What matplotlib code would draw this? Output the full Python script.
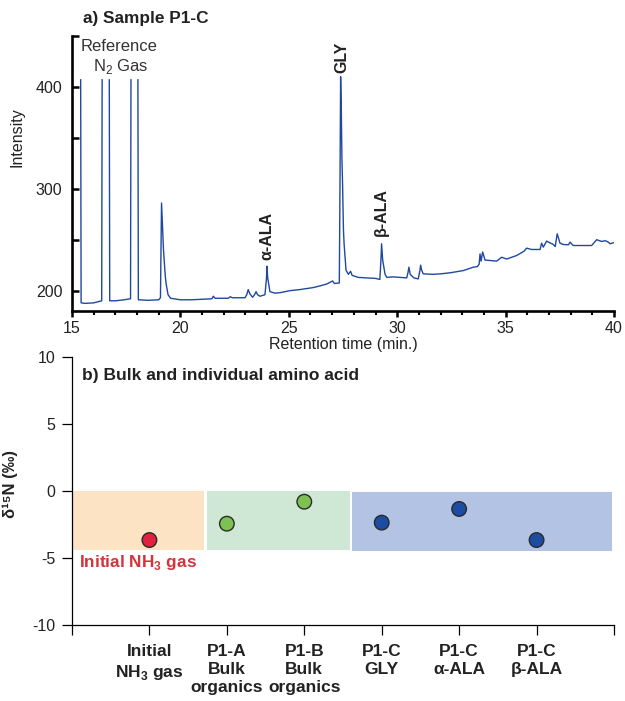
import numpy as np
import matplotlib
matplotlib.use("Agg")
import matplotlib.pyplot as plt
from matplotlib.patches import Rectangle
from matplotlib.ticker import MultipleLocator

plt.rcParams['font.family'] = ['Liberation Sans', 'DejaVu Sans']
plt.rcParams['mathtext.fontset'] = 'custom'
plt.rcParams['mathtext.rm'] = 'Liberation Sans'
plt.rcParams['mathtext.bf'] = 'Liberation Sans:bold'

nan = np.nan

# chromatogram of sample P1-C, nan = off-scale gaps
rt_min = [15.40, 15.42, 15.6, 16.0, 16.37, 16.39, 16.55, 16.72, 16.74, 17.0, 17.4, 17.70, 17.72,
          17.90, 18.04, 18.06, 18.5, 19.0, 19.08, 19.13, 19.16, 19.22, 19.30, 19.34, 19.43, 19.55,
          20.0, 20.5, 21.0, 21.45, 21.52, 21.6, 22.2, 22.3, 22.4, 22.98, 23.06, 23.13, 23.2, 23.33,
          23.42, 23.49, 23.56, 23.67, 23.9, 23.97, 23.99, 24.03, 24.13, 24.36, 24.6, 25.06, 25.5,
          26.13, 26.5, 26.75, 27.02, 27.1, 27.33, 27.36, 27.39, 27.42, 27.45, 27.48, 27.52, 27.55,
          27.64, 27.75, 27.85, 27.92, 28.2, 28.6, 29.0, 29.2, 29.25, 29.28, 29.33, 29.44, 29.52,
          29.8, 30.13, 30.44, 30.5, 30.54, 30.6, 30.77, 30.97, 31.05, 31.08, 31.13, 31.2, 31.66,
          32.0, 32.44, 33.05, 33.51, 33.7, 33.78, 33.82, 33.87, 33.94, 34.05, 34.3, 34.59, 34.82,
          35.05, 35.51, 35.85, 35.97, 36.2, 36.59, 36.66, 36.74, 36.89, 37.2, 37.29, 37.38, 37.51,
          37.66, 37.9, 37.97, 38.12, 38.97, 39.2, 39.43, 39.6, 39.74, 39.82, 39.97]
intensity = [407, 188, 187.5, 188, 190, 407, nan, 407, 190, 190, 191, 192, 407,
             nan, 407, 191, 190.5, 191, 193, 286, 270, 240, 215, 207, 196, 192.5,
             191, 191, 191.5, 192, 194.5, 192.5, 192.5, 194, 193, 193, 196, 201, 197, 193.5,
             196, 199, 196, 194.5, 196, 212, 224, 212, 199, 197.5, 198, 200, 201,
             203, 205, 206.5, 209.5, 207, 207.5, 300, 410, 380, 330, 305, 260, 246,
             220, 216, 219, 215, 213, 212.5, 212, 211, 230, 246, 230, 216, 213,
             213.5, 213, 212.5, 218, 223, 216, 212.5, 211.5, 220, 225, 220, 216.5, 216,
             216.5, 217.5, 219.7, 223, 223.6, 226, 236, 229, 238, 230, 229.5, 229, 232.8,
             231, 234.5, 238.7, 241.7, 240.4, 240.4, 246.6, 242.7, 248.6, 245.3, 243.3, 255.8, 246.6,
             245.3, 245, 247.6, 244.3, 244.3, 250, 248.3, 249, 247.6, 246, 247]

# bulk and individual amino acid d15N
samples = ["Initial\nNH$_\\mathbf{3}$ gas", "P1-A\nBulk\norganics", "P1-B\nBulk\norganics",
           "P1-C\nGLY", "P1-C\n\u03b1-ALA", "P1-C\n\u03b2-ALA"]
d15n = [-3.66, -2.44, -0.8, -2.36, -1.34, -3.66]
point_colors = ["#e2213f", "#7cc152", "#7cc152", "#1d4ca3", "#1d4ca3", "#1d4ca3"]

fig = plt.figure(figsize=(6.25, 7.01), dpi=100)
W, H = 625, 701

# ---- a) chromatogram
ax1 = fig.add_axes([72 / W, 1 - 311 / H, 542 / W, 275 / H])
ax1.plot(rt_min, intensity, color="#1f48a0", lw=1.0)
ax1.set_xlim(15, 40)
ax1.set_ylim(180, 450)
for s in ["top", "right"]:
    ax1.spines[s].set_visible(False)
for s in ["left", "bottom"]:
    ax1.spines[s].set_linewidth(1.9)
ax1.yaxis.set_major_locator(MultipleLocator(100))
ax1.yaxis.set_minor_locator(MultipleLocator(50))
ax1.xaxis.set_major_locator(MultipleLocator(5))
ax1.xaxis.set_minor_locator(MultipleLocator(1))
ax1.tick_params(axis="y", which="both", direction="in", length=5, width=1.8, pad=7,
                labelsize=11.5, labelcolor="#222222")
ax1.tick_params(axis="x", which="major", direction="out", length=4, width=1.8, pad=3,
                labelsize=11.5, labelcolor="#222222")
ax1.tick_params(axis="x", which="minor", direction="out", length=3, width=1.5)
ax1.set_xlabel("Retention time (min.)", fontsize=11.5, color="#222222", labelpad=1)
ax1.set_ylabel("Intensity", fontsize=11.5, color="#222222")
ax1.yaxis.set_label_coords(-0.088, 0.633)

ax1.text(17.17, 439.5, "Reference", fontsize=12, color="#333333", ha="center", va="center")
ax1.text(17.26, 420.5, "N$_2$ Gas", fontsize=12, color="#333333", ha="center", va="center")
ax1.text(27.45, 429.5, "GLY", fontsize=11.5, fontweight="bold", rotation=90,
         ha="center", va="center", color="#222222")
ax1.text(24.0, 254, "\u03b1-ALA", fontsize=11.5, fontweight="bold", rotation=90,
         ha="center", va="center", color="#222222")
ax1.text(29.25, 277, "\u03b2-ALA", fontsize=11.5, fontweight="bold", rotation=90,
         ha="center", va="center", color="#222222")
ax1.text(0.02, 1.062, "a) Sample P1-C", transform=ax1.transAxes, fontsize=12.4,
         fontweight="bold", color="#222222", ha="left", va="center")

# ---- b) d15N
ax2 = fig.add_axes([72 / W, 1 - 625 / H, 542 / W, 268 / H])
ax2.set_xlim(0, 7)
ax2.set_ylim(-10, 10)
for s in ["top", "right"]:
    ax2.spines[s].set_visible(False)
for s in ["left", "bottom"]:
    ax2.spines[s].set_linewidth(0.9)

ax2.add_patch(Rectangle((0, -4.4), 1.705, 4.4, facecolor="#fbe3c3", edgecolor="none"))
ax2.add_patch(Rectangle((1.744, -4.4), 1.846, 4.4, facecolor="#cfe8d5", edgecolor="none"))
ax2.add_patch(Rectangle((3.616, -4.5), 3.354, 4.45, facecolor="#b3c3e4", edgecolor="none"))

xs = np.arange(1, len(samples) + 1)
ax2.scatter(xs, d15n, s=110, c=point_colors, edgecolors="#2a2a2a", linewidths=1.0, zorder=3)

ax2.set_xticks(np.arange(0, 8))
ax2.set_xticklabels([""] + samples + [""], fontsize=12.5, fontweight="bold",
                    color="#222222", linespacing=1.25)
ax2.set_yticks([-10, -5, 0, 5, 10])
ax2.set_yticklabels(["-10", "-5", "0", "5", "10"])
ax2.tick_params(axis="x", direction="out", length=7, width=0.9, pad=7)
ax2.tick_params(axis="y", direction="out", length=7, width=0.9, pad=5,
                labelsize=11.5, labelcolor="#222222")
ax2.set_ylabel("\u03b4\u00b9\u2075N (\u2030)", fontsize=12, fontweight="bold", color="#222222")
ax2.yaxis.set_label_coords(-0.1, 0.526)

ax2.text(0.09, -5.3, "Initial NH$_\\mathbf{3}$ gas", fontsize=12.4, fontweight="bold",
         color="#d2343c", ha="left", va="center")
ax2.text(0.018, 0.93, "b) Bulk and individual amino acid", transform=ax2.transAxes,
         fontsize=12.5, fontweight="bold", color="#222222", ha="left", va="center")

fig.savefig("out.png", dpi=100)
